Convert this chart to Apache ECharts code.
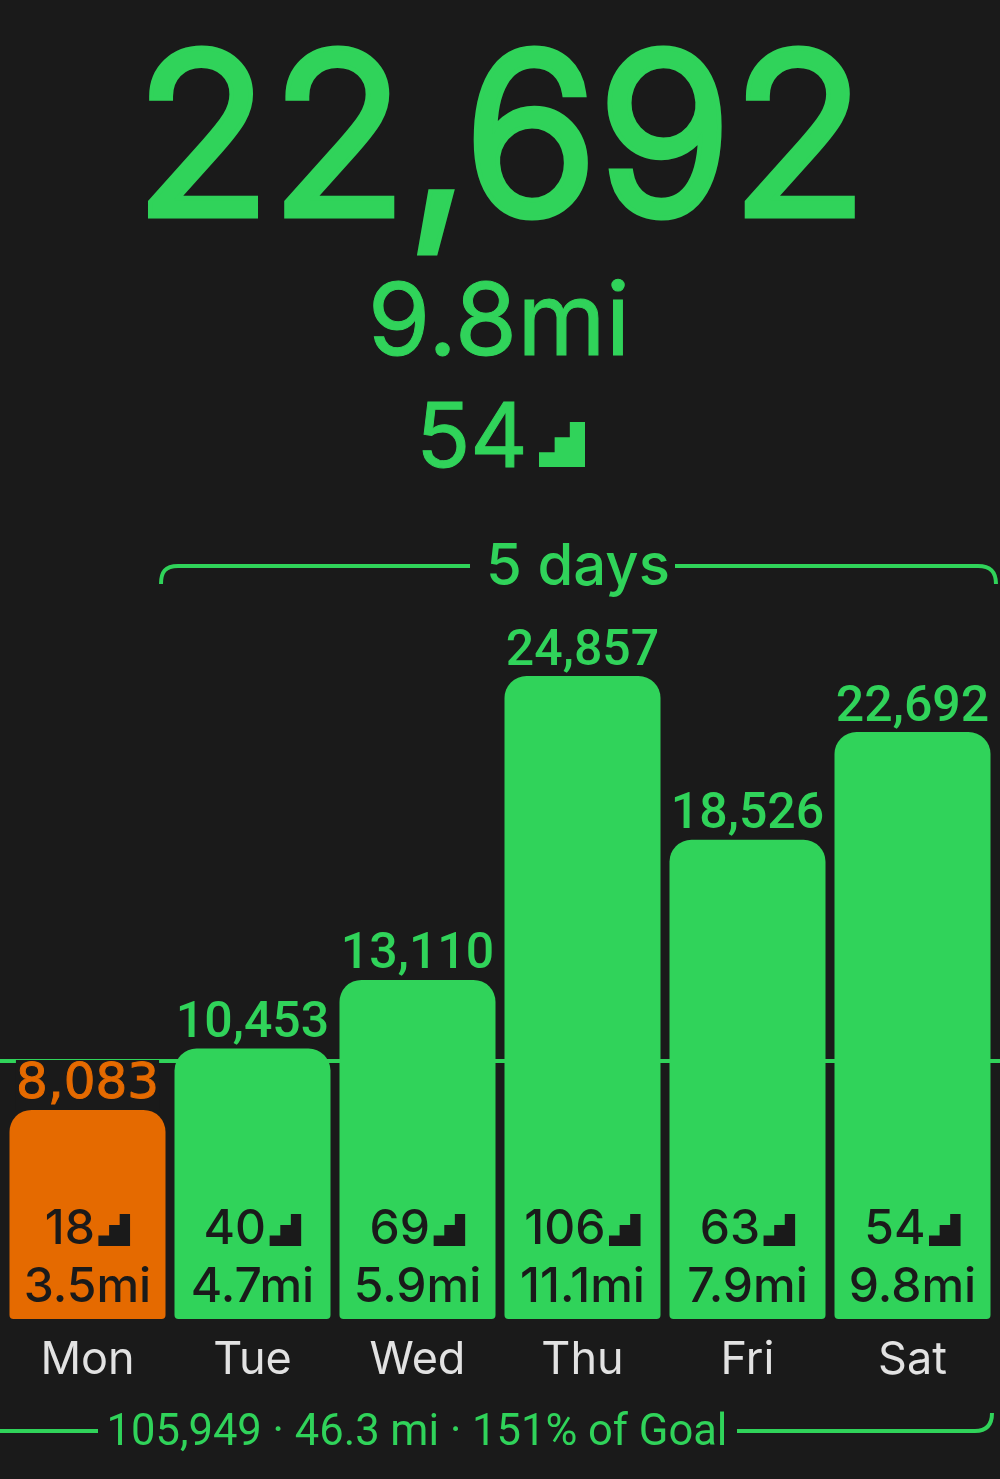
<!DOCTYPE html>
<html><head><meta charset="utf-8">
<style>html,body{margin:0;padding:0;background:#1a1a1a}#c{width:1000px;height:1479px}</style>
<script src="https://cdn.jsdelivr.net/npm/echarts@6/dist/echarts.min.js"></script>
</head><body><div id="c"></div>
<script>
const days = ['Mon','Tue','Wed','Thu','Fri','Sat'];
const steps = [8083,10453,13110,24857,18526,22692];
const flights = [18,40,69,106,63,54];
const miles = ['3.5mi','4.7mi','5.9mi','11.1mi','7.9mi','9.8mi'];
const goal = 10000;
const headSteps = '22,692';
const headMiles = '9.8mi';
const headFlights = '54';
const spanLabel = '5 days';
const summary = '105,949 · 46.3 mi · 151% of Goal';

const GREEN = '#30d35a', ORANGE = '#e56a00', BG = '#1a1a1a', FONT = 'Inter', NUM = 'Roboto';
const stair = c => 'data:image/svg+xml;utf8,' + encodeURIComponent(
  `<svg xmlns="http://www.w3.org/2000/svg" width="100" height="100" viewBox="0 0 100 100"><path fill="${c}" d="M0 100V67H34V34H67V0H100V100Z"/></svg>`);
const fmt = n => n.toLocaleString('en-US');
const chart = echarts.init(document.getElementById('c'), null, {renderer:'canvas'});
const topColor = i => steps[i] < goal ? ORANGE : GREEN;
const stroke = {fill:null,stroke:GREEN,lineWidth:4,lineCap:'butt'};
const line = (x1,y,x2) => ({type:'line',shape:{x1,y1:y,x2,y2:y},style:stroke});
const curve = (x1,y1,cpx1,cpy1,cpx2,cpy2,x2,y2) => ({type:'bezierCurve',shape:{x1,y1,cpx1,cpy1,cpx2,cpy2,x2,y2},style:stroke});
const head = (text,x,y,fontSize,w,fam,sw) => ({type:'text',x,y,style:{text,fontFamily:fam||FONT,fontSize,fontWeight:w||400,fill:GREEN,
  stroke:sw?GREEN:null,lineWidth:sw||0,lineJoin:'round',align:'center',verticalAlign:'middle'}});

chart.setOption({
  animation:false,
  backgroundColor:BG,
  grid:{left:5,width:990,top:543,height:776},
  xAxis:{type:'category',data:days,axisLine:{show:false},axisTick:{show:false},
    axisLabel:{color:'#e2e2e2',fontFamily:FONT,fontSize:45,margin:19}},
  yAxis:{type:'value',min:0,max:30000,show:false,splitLine:{show:false}},
  graphic:[
    head(headSteps,501,147,222,300,FONT,9),
    head(headMiles,499,325,101,400,FONT,1),
    head(headFlights,472,440,89,400,FONT,1),
    {type:'image',x:539,y:422,style:{image:stair(GREEN),width:46,height:45}},
    head(spanLabel,578,568,58,500),
    line(178,566,470), curve(161,584,161,572,165,566,178,566),
    line(675,566,978), curve(978,566,991,566,996,572,996,584),
    line(0,1431,98),
    line(737,1431,975), curve(975,1431,986,1431,992,1425,992,1413),
    head(summary,417,1434,43.5,400,NUM)
  ],
  series:[
    {type:'bar',barWidth:156,z:2,
     data:steps.map((v,i)=>({value:v,
       itemStyle:{color:topColor(i),borderRadius:[22,22,4,4]},
       label:steps[i]<goal
         ?{color:ORANGE,backgroundColor:BG,fontFamily:'DejaVu Sans',fontWeight:400,distance:0,textBorderColor:ORANGE,textBorderWidth:1}
         :{color:GREEN}})),
     label:{show:true,position:'top',distance:-1,fontFamily:NUM,fontWeight:500,fontSize:50,
       formatter:p=>fmt(p.value)},
     markLine:{silent:true,symbol:'none',z:1,animation:false,label:{show:false},
       lineStyle:{color:GREEN,width:4,type:'solid'},
       data:[[{yAxis:goal,x:0},{yAxis:goal,x:1000}]]}
    },
    {type:'bar',barWidth:156,barGap:'-100%',z:3,silent:true,
     data:steps,itemStyle:{color:'transparent'},
     label:{show:true,position:'insideBottom',distance:2,
       formatter:p=>`{n|${flights[p.dataIndex]}} {s|}\n{m|${miles[p.dataIndex]}}`,
       rich:{
         n:{fontFamily:FONT,fontSize:48,color:BG,lineHeight:58,fontWeight:500},
         s:{width:32,height:32,backgroundColor:{image:stair(BG)}},
         m:{fontFamily:FONT,fontSize:48,color:BG,lineHeight:58,fontWeight:500}
       }}
    }
  ]
});
</script></body></html>
